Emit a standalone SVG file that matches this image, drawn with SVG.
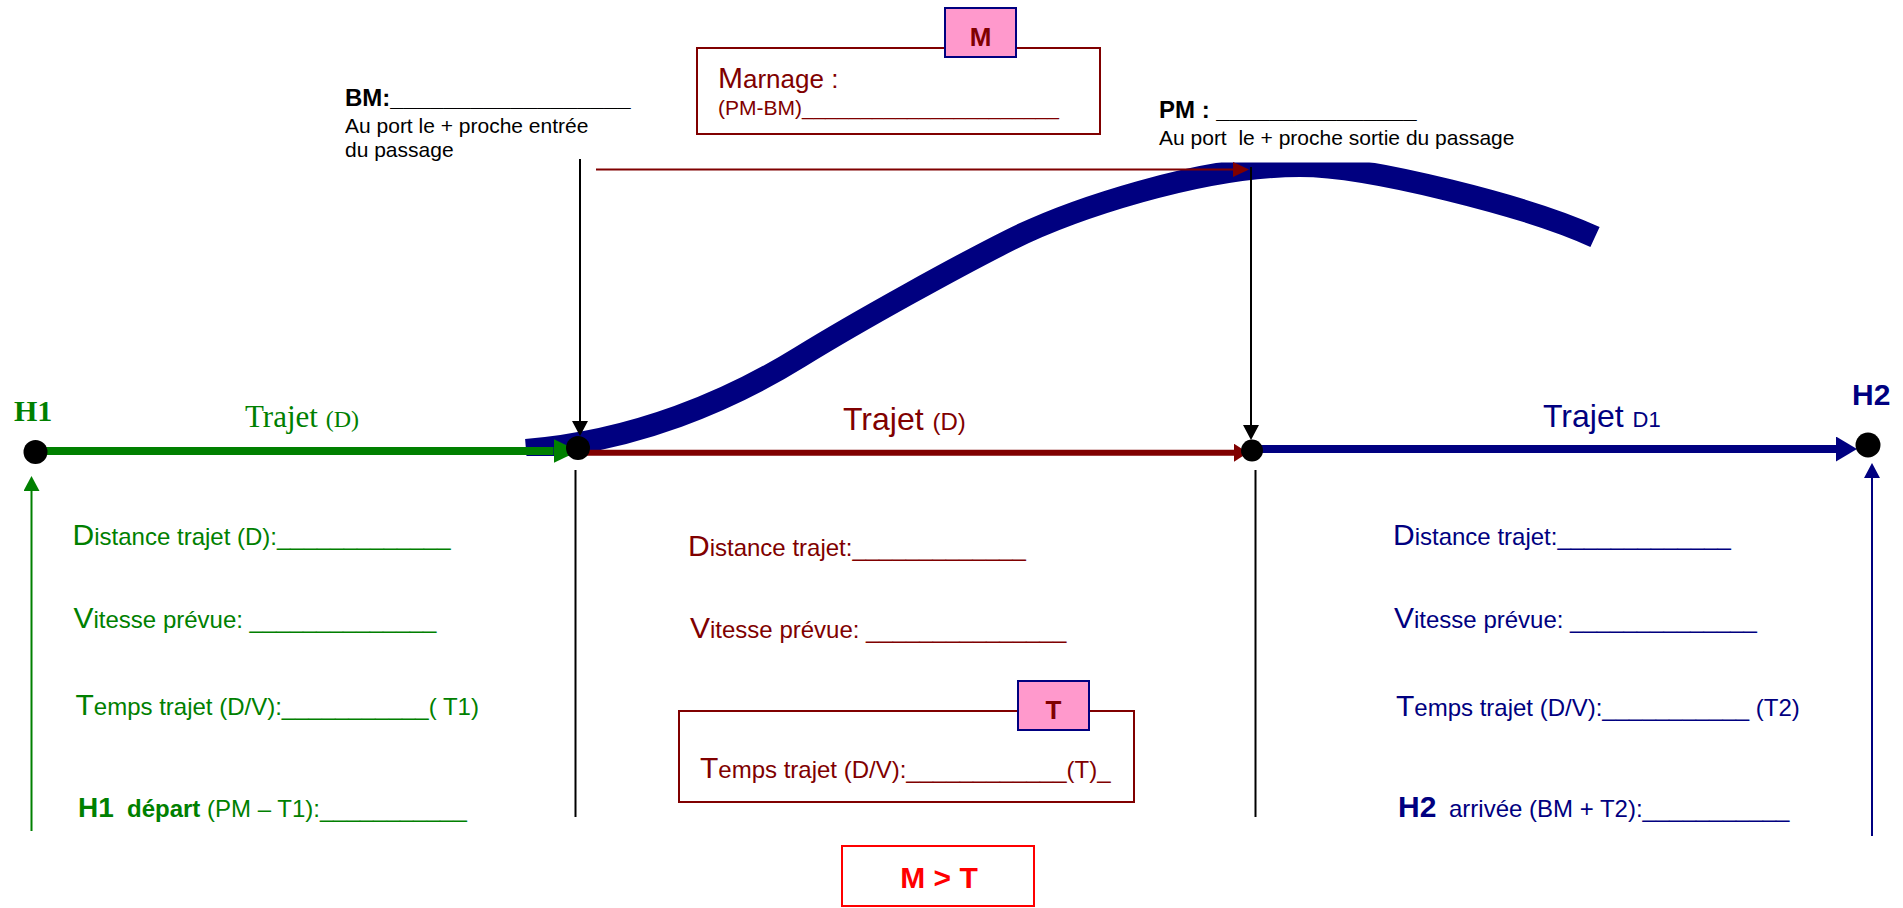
<svg xmlns="http://www.w3.org/2000/svg" width="1903" height="908" viewBox="0 0 1903 908">
<defs>
<style>
text { font-family: "Liberation Sans", Arial, sans-serif; font-size: 24px; }
.serif { font-family: "Liberation Serif", "Times New Roman", serif; }
.g { fill: #008000; }
.r { fill: #800000; }
.b { fill: #000080; }
.k { fill: #000000; }
.red { fill: #ff0000; }
.bold { font-weight: bold; }
.cap { font-size: 30px; }
.small { font-size: 21px; }
.dot { fill: #000000; }
.ln { fill: none; }
.tag { fill: #ff99cc; stroke: #000080; stroke-width: 2; }
.box { fill: none; stroke: #800000; stroke-width: 2; }
</style>
<clipPath id="clipRoute"><rect x="0" y="162.5" width="1903" height="293.5"/></clipPath>
<marker id="aBlack" markerUnits="userSpaceOnUse" markerWidth="15" markerHeight="16" viewBox="0 0 15 16" refX="0" refY="8" orient="auto"><path d="M0,0 L15,8 L0,16 Z" fill="#000000"/></marker>
<marker id="aGreenS" markerUnits="userSpaceOnUse" markerWidth="15" markerHeight="16" viewBox="0 0 15 16" refX="0" refY="8" orient="auto"><path d="M0,0 L15,8 L0,16 Z" fill="#008000"/></marker>
<marker id="aNavyS" markerUnits="userSpaceOnUse" markerWidth="15" markerHeight="16" viewBox="0 0 15 16" refX="0" refY="8" orient="auto"><path d="M0,0 L15,8 L0,16 Z" fill="#000080"/></marker>
<marker id="aRedThin" markerUnits="userSpaceOnUse" markerWidth="16" markerHeight="15" viewBox="0 0 16 15" refX="0" refY="7.5" orient="auto"><path d="M0,0 L16,7.5 L0,15 Z" fill="#800000"/></marker>
<marker id="aGreenBig" markerUnits="userSpaceOnUse" markerWidth="25" markerHeight="24" viewBox="0 0 25 24" refX="0" refY="12" orient="auto"><path d="M0,0 L25,12 L0,24 Z" fill="#008000"/></marker>
<marker id="aRedBig" markerUnits="userSpaceOnUse" markerWidth="14" markerHeight="18" viewBox="0 0 14 18" refX="0" refY="9" orient="auto"><path d="M0,0 L14,9 L0,18 Z" fill="#800000"/></marker>
<marker id="aNavyBig" markerUnits="userSpaceOnUse" markerWidth="21" markerHeight="25" viewBox="0 0 21 25" refX="0" refY="12.5" orient="auto"><path d="M0,0 L21,12.5 L0,25 Z" fill="#000080"/></marker>
</defs>

<rect x="0" y="0" width="1903" height="908" fill="#ffffff"/>

<g id="route">
<path d="M526,450 C636,441 730,400.4 800,357 C860,320 960,265 1010,240 C1070,210 1200,166 1300,166 C1370,166 1530,207 1595,237" fill="none" stroke="#000080" stroke-width="22" stroke-linecap="butt" clip-path="url(#clipRoute)"/>
</g>

<g id="connectors">
<path class="ln" d="M36,451 H553.5" stroke="#008000" stroke-width="8" marker-end="url(#aGreenBig)"/>
<path class="ln" d="M578,452.7 H1234" stroke="#800000" stroke-width="6" marker-end="url(#aRedBig)"/>
<path class="ln" d="M1252,449 H1836" stroke="#000080" stroke-width="8" marker-end="url(#aNavyBig)"/>
<path class="ln" d="M596,169.5 H1233" stroke="#800000" stroke-width="2" marker-end="url(#aRedThin)"/>
<path class="ln" d="M580,159 V421" stroke="#000000" stroke-width="2" marker-end="url(#aBlack)"/>
<path class="ln" d="M1251,167 V425" stroke="#000000" stroke-width="2" marker-end="url(#aBlack)"/>
<path class="ln" d="M575.5,470 V817" stroke="#000000" stroke-width="2"/>
<path class="ln" d="M1255.5,470 V817" stroke="#000000" stroke-width="2"/>
<path class="ln" d="M31.5,831 V491" stroke="#008000" stroke-width="2" marker-end="url(#aGreenS)"/>
<path class="ln" d="M1872,836 V478" stroke="#000080" stroke-width="2" marker-end="url(#aNavyS)"/>
</g>

<g id="node-H1">
<circle class="dot" cx="35.5" cy="452" r="12"/>
<text class="serif bold g" x="14" y="421" style="font-size:30px">H1</text>
</g>

<g id="node-BM">
<circle class="dot" cx="578" cy="448" r="12"/>
<text class="bold k" x="345" y="106">BM:__________________</text>
<text class="small k" x="345" y="133">Au port le + proche entrée</text>
<text class="small k" x="345" y="157">du passage</text>
</g>

<g id="node-PM">
<circle class="dot" cx="1252" cy="450.5" r="11"/>
<text class="bold k" x="1159" y="118">PM : _______________</text>
<text class="small k" x="1159" y="145" xml:space="preserve">Au port  le + proche sortie du passage</text>
</g>

<g id="node-H2">
<circle class="dot" cx="1868" cy="445" r="12.5"/>
<text class="bold b" x="1852" y="405" style="font-size:30px">H2</text>
</g>

<g id="label-trajet-1">
<text class="serif g" x="245" y="427"><tspan style="font-size:31px">Trajet </tspan><tspan style="font-size:24px">(D)</tspan></text>
</g>
<g id="label-trajet-2">
<text class="r" x="843" y="430"><tspan style="font-size:32px">Trajet </tspan><tspan style="font-size:24px">(D)</tspan></text>
</g>
<g id="label-trajet-3">
<text class="b" x="1543" y="427"><tspan style="font-size:32px">Trajet </tspan><tspan style="font-size:22px">D1</tspan></text>
</g>

<g id="node-marnage">
<rect class="box" x="697" y="48" width="403" height="86"/>
<text class="r" x="718" y="88"><tspan style="font-size:30px">M</tspan><tspan style="font-size:26px">arnage :</tspan></text>
<text class="small r" x="718" y="115">(PM-BM)______________________</text>
<rect class="tag" x="945" y="8" width="71" height="49"/>
<text class="bold r" x="980.5" y="46" text-anchor="middle" style="font-size:26px">M</text>
</g>

<g id="node-left-info">
<text class="g" x="72.6" y="545"><tspan class="cap">D</tspan>istance trajet (D):_____________</text>
<text class="g" x="73.5" y="628"><tspan class="cap">V</tspan>itesse prévue: ______________</text>
<text class="g" x="75.5" y="715"><tspan class="cap">T</tspan>emps trajet (D/V):___________( T1)</text>
<text class="g" x="78" y="817"><tspan class="bold" style="font-size:28px">H1 </tspan><tspan class="bold" x="127">départ</tspan> (PM – T1):___________</text>
</g>

<g id="node-middle-info">
<text class="r" x="688" y="556"><tspan class="cap">D</tspan>istance trajet:_____________</text>
<text class="r" x="690" y="638"><tspan class="cap">V</tspan>itesse prévue: _______________</text>
</g>

<g id="node-temps-T">
<rect class="box" x="679" y="711" width="455" height="91"/>
<text class="r" x="700" y="778"><tspan class="cap">T</tspan>emps trajet (D/V):____________(T)_</text>
<rect class="tag" x="1018" y="681" width="71" height="49"/>
<text class="bold r" x="1053.5" y="719" text-anchor="middle" style="font-size:26px">T</text>
</g>

<g id="node-right-info">
<text class="b" x="1393" y="545"><tspan class="cap">D</tspan>istance trajet:_____________</text>
<text class="b" x="1394" y="628"><tspan class="cap">V</tspan>itesse prévue: ______________</text>
<text class="b" x="1396" y="716"><tspan class="cap">T</tspan>emps trajet (D/V):___________ (T2)</text>
<text class="b" x="1398" y="817"><tspan class="bold" style="font-size:30px">H2 </tspan><tspan x="1449">arrivée (BM + T2):___________</tspan></text>
</g>

<g id="node-condition">
<rect x="842" y="846" width="192" height="60" fill="none" stroke="#ff0000" stroke-width="2"/>
<text class="bold red" x="939" y="888" text-anchor="middle" style="font-size:30px">M &gt; T</text>
</g>
</svg>
